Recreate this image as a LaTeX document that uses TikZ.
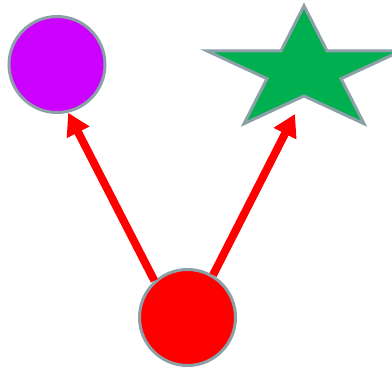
\documentclass[tikz,border=0pt]{standalone}
\usetikzlibrary{arrows.meta}
\definecolor{edgegray}{RGB}{140,160,168}
\definecolor{purplefill}{RGB}{204,0,255}
\definecolor{greenfill}{RGB}{0,176,80}
\definecolor{redfill}{RGB}{255,0,0}
\tikzset{
  ball/.style={circle, draw=edgegray, line width=3pt, minimum size=96pt, inner sep=0pt},
  redarrow/.style={draw=redfill, line width=8pt, -{Triangle[length=22pt,width=24pt]}}
}
\begin{document}
\begin{tikzpicture}[x=1pt,y=-1pt]
\useasboundingbox (0,0) rectangle (392,368);
\node[ball, fill=purplefill] (purple) at (57,64.5) {};
\node[ball, fill=redfill] (red) at (187.5,317.5) {};
\draw[draw=edgegray, fill=greenfill, line width=3pt, line join=miter]
  (304,5.8) -- (327,50.9) -- (401,50.9) -- (341,78.7) -- (364,123.7)
  -- (304,95.9) -- (244,123.7) -- (267,78.7) -- (207,50.9) -- (281,50.9) -- cycle;
\coordinate (startip) at (295,114);
\draw[redarrow] (red.132.5) -- (purple.-77);
\draw[redarrow] (red.59) -- (startip);
\end{tikzpicture}
\end{document}
